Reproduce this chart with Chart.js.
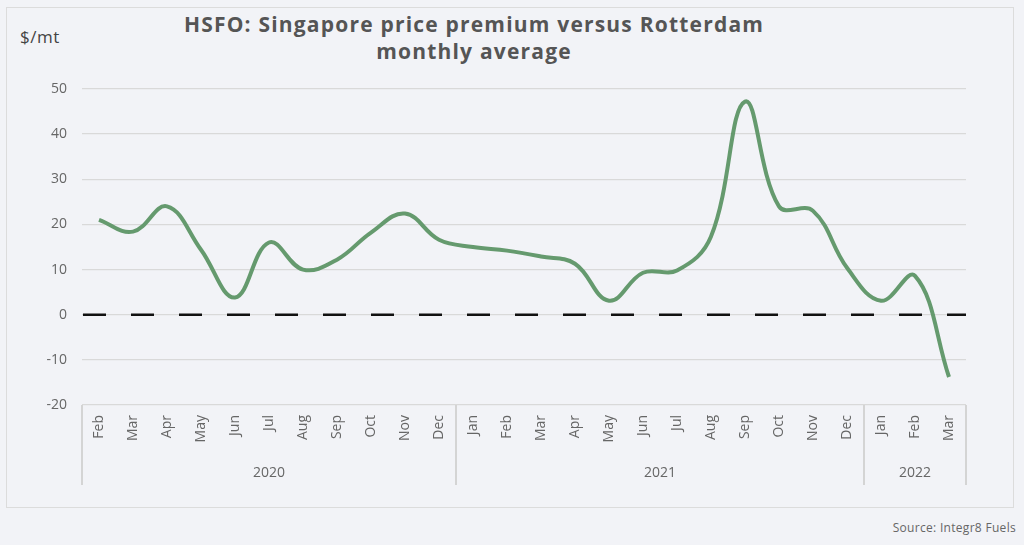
<!DOCTYPE html>
<html lang="en">
<head>
<meta charset="UTF-8">
<title>HSFO: Singapore price premium versus Rotterdam</title>
<script src="https://cdn.jsdelivr.net/npm/chart.js"></script>
<style>
  body { margin: 0; background: #f2f3f7; font-family: 'Open Sans', sans-serif; }
  #wrap { position: relative; width: 1024px; height: 545px; }
  #box { position: absolute; left: 6px; top: 7px; width: 1008px; height: 501px; border: 1px solid #dcdcdc; box-sizing: border-box; }
  #title { position: absolute; left: 124px; width: 700px; top: 11px; text-align: center; font-weight: 700; font-size: 21px; line-height: 27px; letter-spacing: 1.2px; color: #555; }
  #unit { position: absolute; left: 20px; top: 25px; font-size: 17px; color: #444; letter-spacing: 0.5px; }
  #source { position: absolute; right: 8px; top: 519px; font-size: 12px; color: #666; letter-spacing: 0.3px; }
  canvas { position: absolute; left: 0; top: 0; }
</style>
</head>
<body>
<div id="wrap">
  <div id="box"></div>
  <div id="title">HSFO: Singapore price premium versus Rotterdam<br>monthly average</div>
  <div id="unit">$/mt</div>
  <div id="source">Source: Integr8 Fuels</div>
  <canvas id="premiumChart" width="1024" height="545"></canvas>
</div>

<script>
const months = ['Feb', 'Mar', 'Apr', 'May', 'Jun', 'Jul', 'Aug', 'Sep', 'Oct', 'Nov', 'Dec',
  'Jan', 'Feb', 'Mar', 'Apr', 'May', 'Jun', 'Jul', 'Aug', 'Sep', 'Oct', 'Nov', 'Dec',
  'Jan', 'Feb', 'Mar'];
const years = ['2020', '2021', '2022'];
const yearCounts = [11, 12, 3];

const premium = [21, 18.4, 24, 14.4, 3.8, 16, 10, 12.2, 18.2, 22.4, 16.6,
  15, 14.2, 12.9, 11.3, 3.1, 9.3, 9.8, 17.3, 47.2, 24, 23, 10.4,
  3.1, 8.6, -13.8];
const baseline = 0;

const yTicks = { min: -20, max: 50, step: 10 };

// dashed zero line across the whole plot, under the series
const zeroLine = {
  id: 'zeroLine',
  beforeDatasetsDraw(chart) {
    const ctx = chart.ctx;
    const y = chart.scales.y.getPixelForValue(baseline);
    const area = chart.chartArea;
    ctx.save();
    ctx.strokeStyle = '#111';
    ctx.lineWidth = 2.6;
    ctx.setLineDash([23, 25]);
    ctx.beginPath();
    ctx.moveTo(area.left + 1, y);
    ctx.lineTo(area.right, y);
    ctx.stroke();
    ctx.restore();
  }
};

// draws the year row under the month labels
const yearGroups = {
  id: 'yearGroups',
  afterDraw(chart) {
    const ctx = chart.ctx;
    const x = chart.scales.x;
    const step = x.getPixelForValue(1) - x.getPixelForValue(0);
    const top = chart.chartArea.bottom;
    const bottom = top + 80;

    ctx.save();
    ctx.strokeStyle = '#d4d4d4';
    ctx.lineWidth = 2;
    ctx.fillStyle = '#666';
    ctx.font = '14px "Open Sans", sans-serif';
    ctx.textAlign = 'center';
    ctx.textBaseline = 'middle';

    let start = 0;
    const edge = (i) => x.getPixelForValue(i) - step / 2;
    ctx.beginPath();
    ctx.moveTo(edge(0), top);
    ctx.lineTo(edge(0), bottom);
    ctx.stroke();
    years.forEach((yr, k) => {
      const end = start + yearCounts[k];
      const right = edge(end);
      ctx.beginPath();
      ctx.moveTo(right, top);
      ctx.lineTo(right, bottom);
      ctx.stroke();
      ctx.fillText(yr, (edge(start) + right) / 2, top + 68);
      start = end;
    });
    ctx.restore();
  }
};

const ctx = document.getElementById('premiumChart').getContext('2d');

new Chart(ctx, {
  type: 'line',
  data: {
    labels: months,
    datasets: [{
      data: premium,
      borderColor: '#659a6e',
      borderWidth: 4,
      tension: 0.4,
      pointRadius: 0,
      fill: false
    }]
  },
  options: {
    responsive: false,
    animation: false,
    layout: {
      padding: { left: 0, right: 58, top: 89, bottom: 60 }
    },
    plugins: {
      legend: { display: false },
      tooltip: { enabled: false }
    },
    scales: {
      x: {
        offset: true,
        grid: { display: false, drawTicks: false },
        border: { display: false },
        ticks: {
          color: '#666',
          font: { family: 'Open Sans', size: 14 },
          minRotation: 90,
          maxRotation: 90,
          padding: 10,
          autoSkip: false
        },
        afterFit(scale) { scale.height = 80; }
      },
      y: {
        min: yTicks.min,
        max: yTicks.max,
        grid: { color: '#d9d9d9', lineWidth: 1.3, drawTicks: false },
        border: { display: false },
        ticks: {
          stepSize: yTicks.step,
          color: '#666',
          font: { family: 'Open Sans', size: 14 },
          padding: 15
        },
        afterFit(scale) { scale.width = 82; }
      }
    }
  },
  plugins: [zeroLine, yearGroups]
});
</script>
</body>
</html>
